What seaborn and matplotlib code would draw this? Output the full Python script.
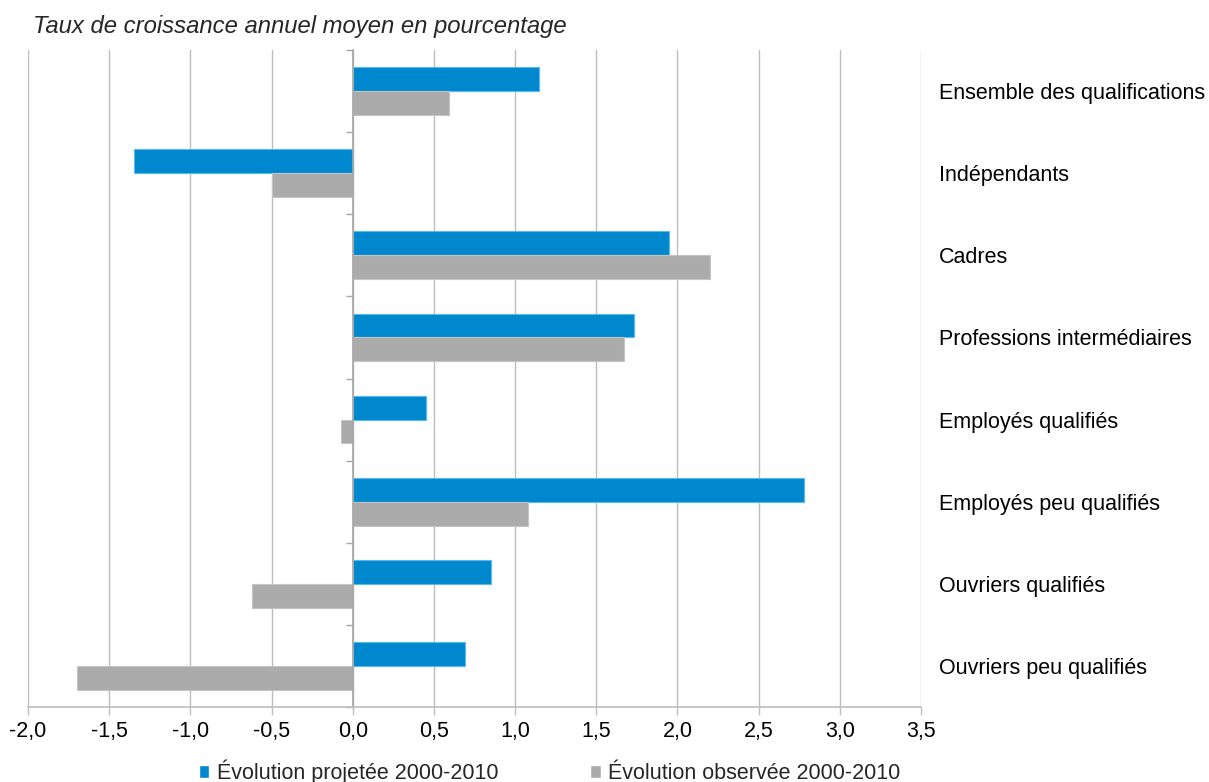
import matplotlib
matplotlib.use("Agg")
import matplotlib.pyplot as plt
import seaborn as sns
import pandas as pd

categories = ["Ensemble des qualifications", "Indépendants", "Cadres",
              "Professions intermédiaires", "Employés qualifiés",
              "Employés peu qualifiés", "Ouvriers qualifiés", "Ouvriers peu qualifiés"]
projetee = [1.15, -1.35, 1.95, 1.73, 0.45, 2.78, 0.85, 0.69]
observee = [0.59, -0.50, 2.20, 1.67, -0.07, 1.08, -0.62, -1.70]
series_names = ["Évolution projetée 2000-2010", "Évolution observée 2000-2010"]
xticks = [-2.0, -1.5, -1.0, -0.5, 0.0, 0.5, 1.0, 1.5, 2.0, 2.5, 3.0, 3.5]
xtick_labels = ["-2,0", "-1,5", "-1,0", "-0,5", "0,0", "0,5", "1,0", "1,5", "2,0", "2,5", "3,0", "3,5"]
title = "Taux de croissance annuel moyen en pourcentage"

df = pd.DataFrame({
    "cat": categories * 2,
    "val": projetee + observee,
    "serie": [series_names[0]] * len(categories) + [series_names[1]] * len(categories),
})

sns.set_theme(style="white")
plt.rcParams['font.family'] = ['Liberation Sans', 'DejaVu Sans']

fig = plt.figure(figsize=(12.09, 7.82), dpi=100)
ax = fig.add_axes([28/1209, 1-707/782, (921-28)/1209, (707-50)/782])

palette = {series_names[0]: "#0088CF", series_names[1]: "#ABABAB"}
sns.barplot(data=df, y="cat", x="val", hue="serie", order=categories,
            hue_order=series_names, palette=palette, orient="h",
            width=0.58, gap=0, saturation=1, ax=ax, legend=True)

edge = {0: "#5BB8EA", 1: "#C4C4C4"}
for i, cont in enumerate(ax.containers):
    for p in cont:
        p.set_edgecolor(edge[i])
        p.set_linewidth(0.8)

ax.set_xlim(-2.0, 3.5)
ax.set_ylim(len(categories) - 0.5, -0.5)
ax.set_xticks(xticks)
ax.set_xticklabels(xtick_labels)
ax.set_xlabel("")
ax.set_ylabel("")
ax.xaxis.grid(True, color="#BDBDBD", linewidth=1)
ax.set_axisbelow(True)

for s in ["top", "right"]:
    ax.spines[s].set_visible(False)
ax.spines["left"].set_position(("data", 0))
ax.spines["left"].set_color("#A6A6A6")
ax.spines["bottom"].set_color("#BDBDBD")
ax.spines["bottom"].set_linewidth(1.2)
ax.spines["left"].set_linewidth(1.2)

ax.set_yticks(range(len(categories)))
ax.set_yticklabels(categories, va="center_baseline")
ax.set_yticks([i - 0.5 for i in range(len(categories) + 1)], minor=True)
ax.tick_params(axis="y", which="major", left=False, right=False,
               labelleft=False, labelright=True, pad=7, labelsize=15.5, colors="#000000")
ax.tick_params(axis="y", which="minor", left=True, right=False, length=5,
               width=1, color="#A6A6A6")
ax.tick_params(axis="x", which="major", bottom=True, length=6, width=1,
               color="#BDBDBD", labelsize=15.5, pad=4, labelcolor="#000000")

ax.get_legend().remove()
handles, labels = ax.get_legend_handles_labels()
fig.legend(handles, labels, loc="center", bbox_to_anchor=(0.4545, 0.013),
           ncol=2, frameon=False, fontsize=15.5, handlelength=0.5,
           handleheight=0.5, handletextpad=0.35, columnspacing=4.25)

fig.text(33/1209, 1-27/782, title, style="italic", fontsize=17.2,
         ha="left", va="center")

fig.savefig("out.png", dpi=100)
